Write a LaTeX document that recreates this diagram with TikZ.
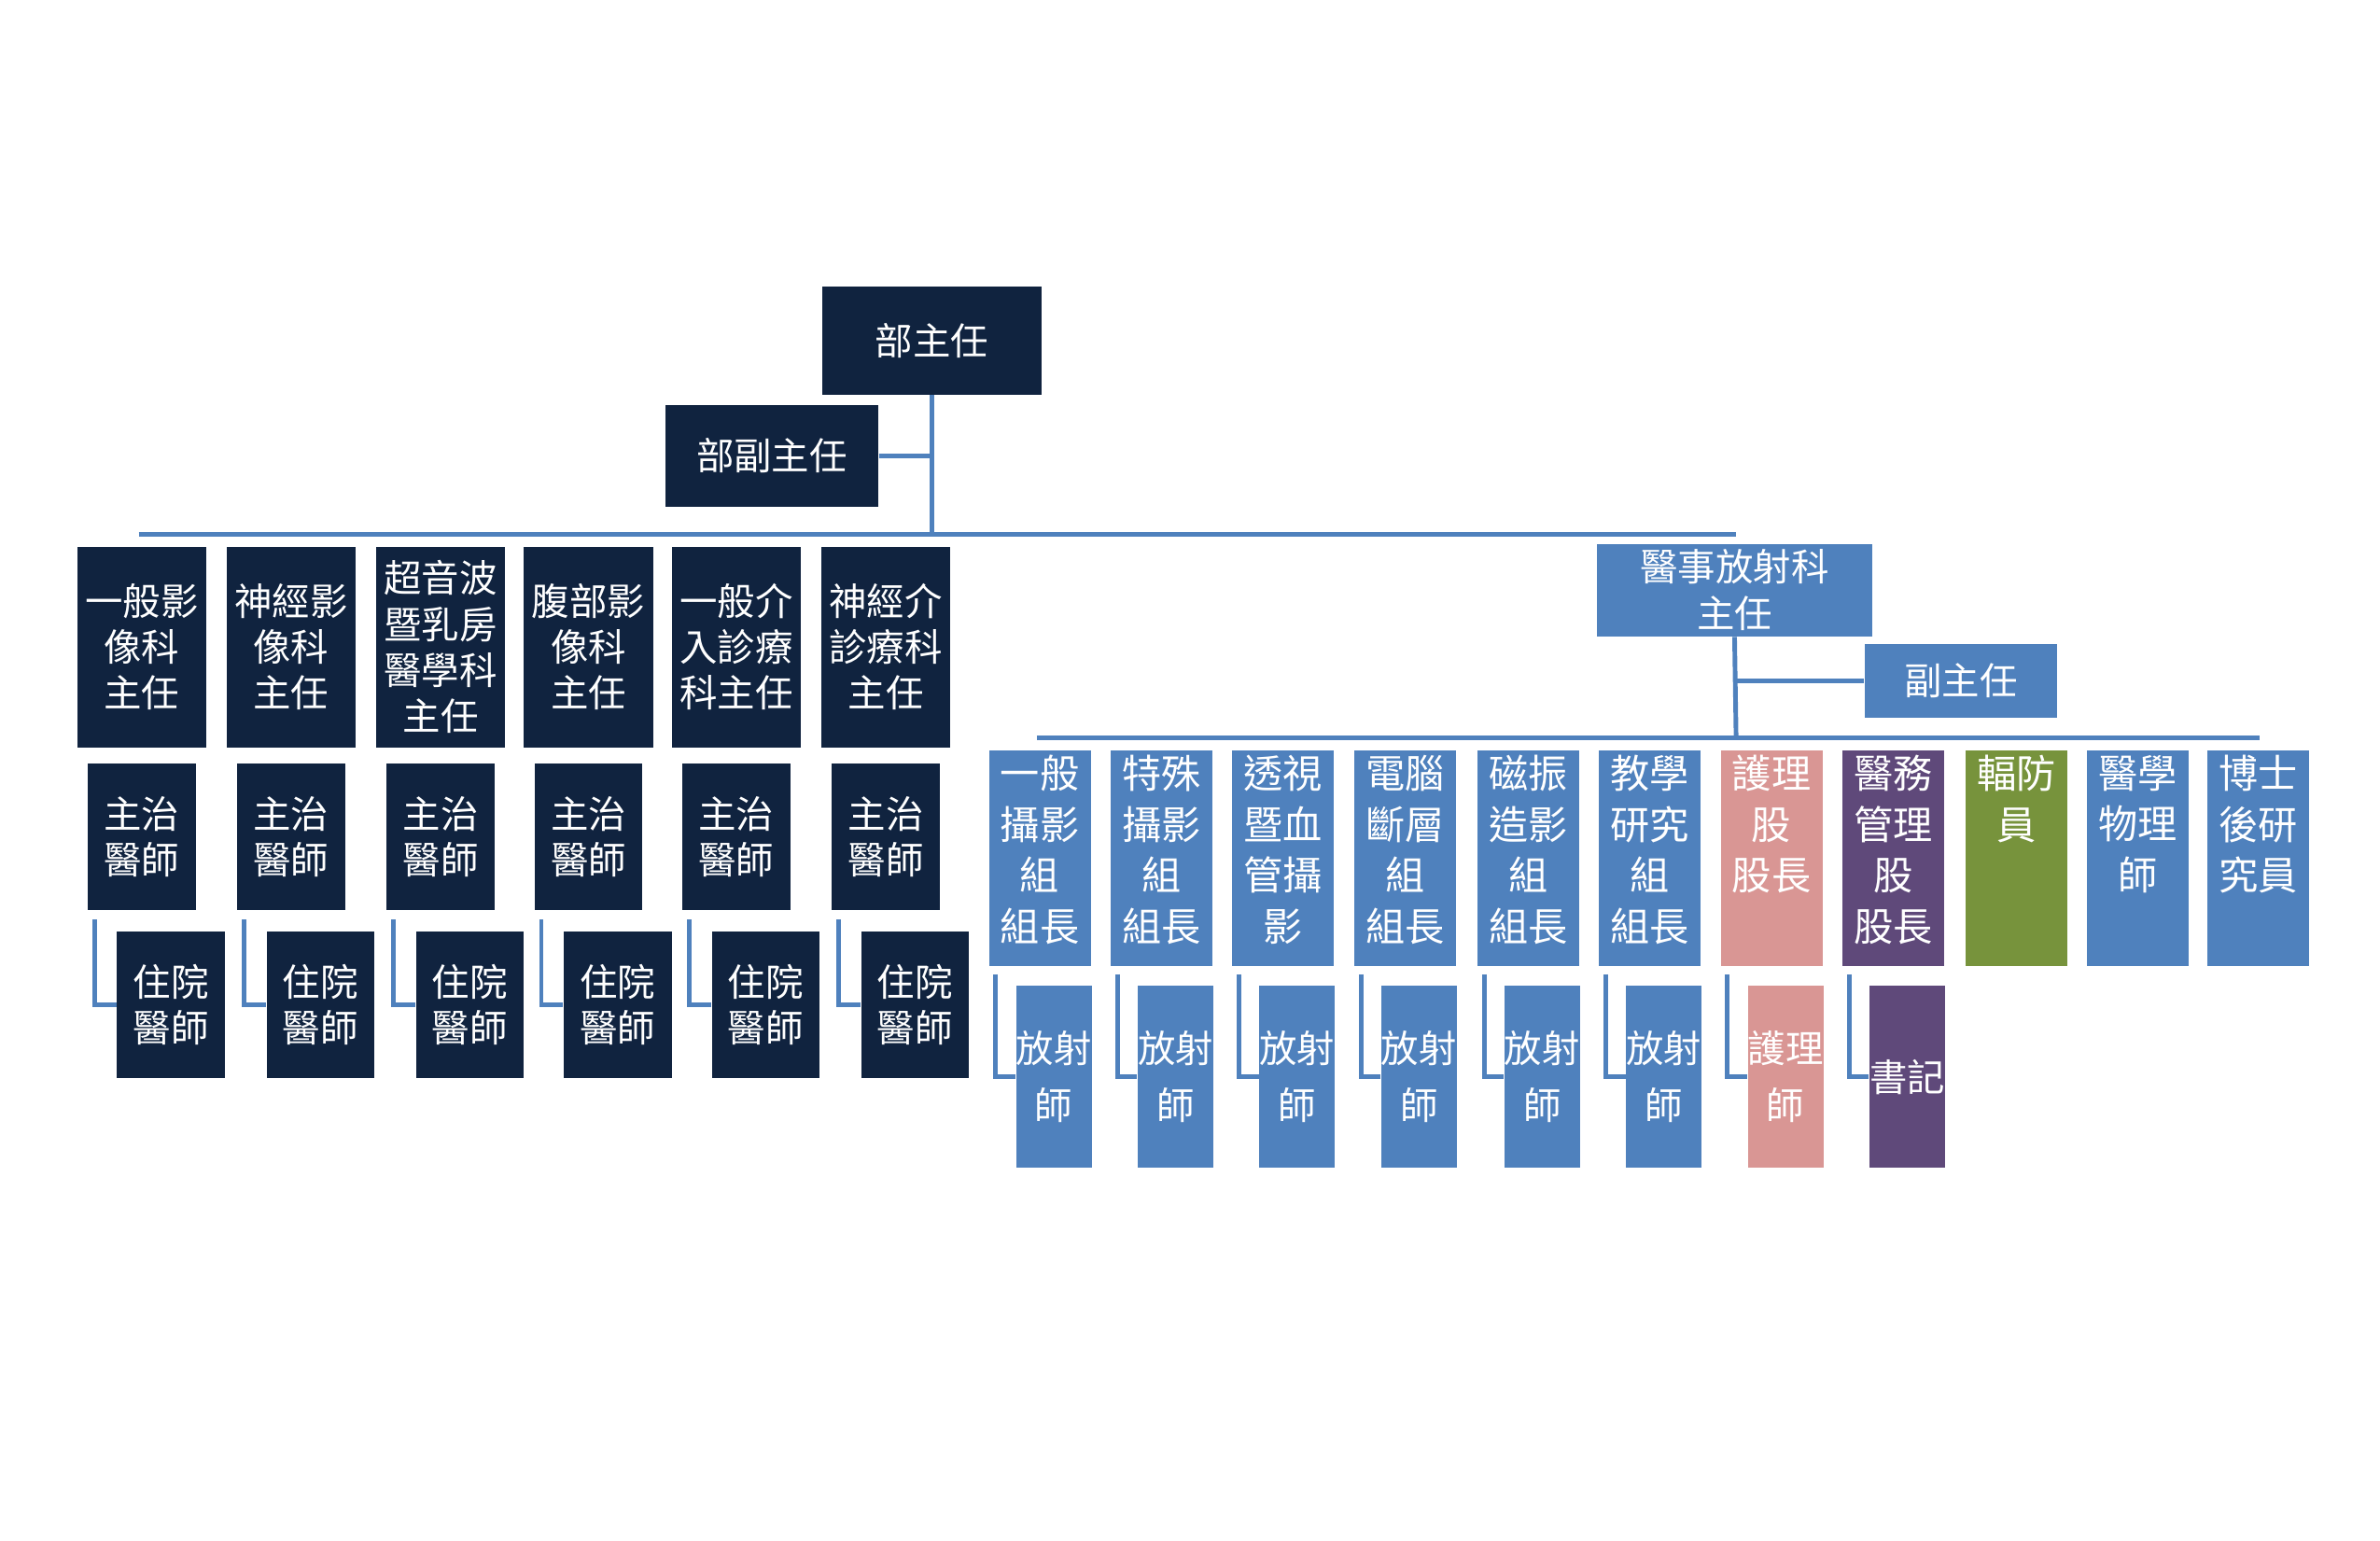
\documentclass[tikz,border=0pt]{standalone}
\usepackage{fontspec}
\setmainfont{Noto Sans CJK TC}
\usetikzlibrary{positioning}
\definecolor{navy}{HTML}{10233F}
\definecolor{blu}{HTML}{4F81BD}
\definecolor{pnk}{HTML}{D99694}
\definecolor{prp}{HTML}{5F497A}
\definecolor{grn}{HTML}{77933C}
\begin{document}
\begin{tikzpicture}
    [
    x=0.0165cm,y=-0.0165cm,
    box/.style={fill=#1,text=white,inner sep=0pt,align=center,font=\fontsize{11.5}{14}\selectfont},
    line/.style={draw=blu,line width=1.4pt},
    ]
    \useasboundingbox (0,0) rectangle (1545,1000);
    % top
    \node (head) at (605,221) [box=navy,minimum width=2.34cm,minimum height=1.155cm] {部主任};
    \node (vice) at (501,296) [box=navy,minimum width=2.28cm,minimum height=1.09cm] {部副主任};
    \coordinate (hub) at (605,347);
    \draw [line] (head.south) -- (hub);
    \draw [line] (vice.east) -- (vice.east -| head.south);
    \draw [line] (90,347) -- (1127,347);
    % left columns
    \foreach \i/\x/\t in {1/92/{一般影\\像科\\主任},2/189/{神經影\\像科\\主任},3/286/{超音波\\暨乳房\\醫學科\\主任},4/382/{腹部影\\像科\\主任},5/478/{一般介\\入診療\\科主任},6/575/{神經介\\診療科\\主任}}
    {
    \node (dept\i) at (\x,420) [box=navy,minimum width=1.386cm,minimum height=2.145cm] {\t};
    \node (att\i) at (\x,543) [box=navy,minimum width=1.155cm,minimum height=1.5675cm] {主治\\醫師};
    \node (res\i) at (\x+19,652) [box=navy,minimum width=1.155cm,minimum height=1.5675cm] {住院\\醫師};
    \draw [line] ([xshift=0.08cm,yshift=-0.1cm]att\i.south west) |- (res\i.west);
    }
    % right side
    \node (rad) at (1126,383) [box=blu,minimum width=2.94cm,minimum height=0.99cm] {醫事放射科\\主任};
    \node (rvice) at (1273,442) [box=blu,minimum width=2.06cm,minimum height=0.78cm] {副主任};
    \draw [line] (rad.south) -- (1127,479);
    \draw [line] (rvice.west -| rad.south) -- (rvice.west);
    \draw [line] (673,479) -- (1467,479);
    \foreach \i/\x/\c/\t in {1/675/blu/{一般\\攝影\\組\\組長},2/754/blu/{特殊\\攝影\\組\\組長},3/833/blu/{透視\\暨血\\管攝\\影},4/912/blu/{電腦\\斷層\\組\\組長},5/992/blu/{磁振\\造影\\組\\組長},6/1071/blu/{教學\\研究\\組\\組長},7/1150/pnk/{護理\\股\\股長},8/1229/prp/{醫務\\管理\\股\\股長},9/1309/grn/{輻防\\員},10/1388/blu/{醫學\\物理\\師},11/1466/blu/{博士\\後研\\究員}}
    {
    \node (grp\i) at (\x,557) [box=\c,minimum width=1.089cm,minimum height=2.31cm,font=\fontsize{12}{15.5}\selectfont] {\parbox[c][2.2cm][t]{1.08cm}{\centering\t}};
    }
    \foreach \i/\c/\t in {1/blu/{放射\\師},2/blu/{放射\\師},3/blu/{放射\\師},4/blu/{放射\\師},5/blu/{放射\\師},6/blu/{放射\\師},7/pnk/{護理\\師},8/prp/{書記}}
    {
    \node (staff\i) at ([xshift=0.15cm]grp\i.center |- 0,699) [box=\c,minimum width=0.792cm,minimum height=1.947cm,font=\fontsize{11.5}{17.5}\selectfont] {\t};
    \draw [line] ([xshift=0.08cm,yshift=-0.08cm]grp\i.south west) |- (staff\i.west);
    }
  \end{tikzpicture}
\end{document}
